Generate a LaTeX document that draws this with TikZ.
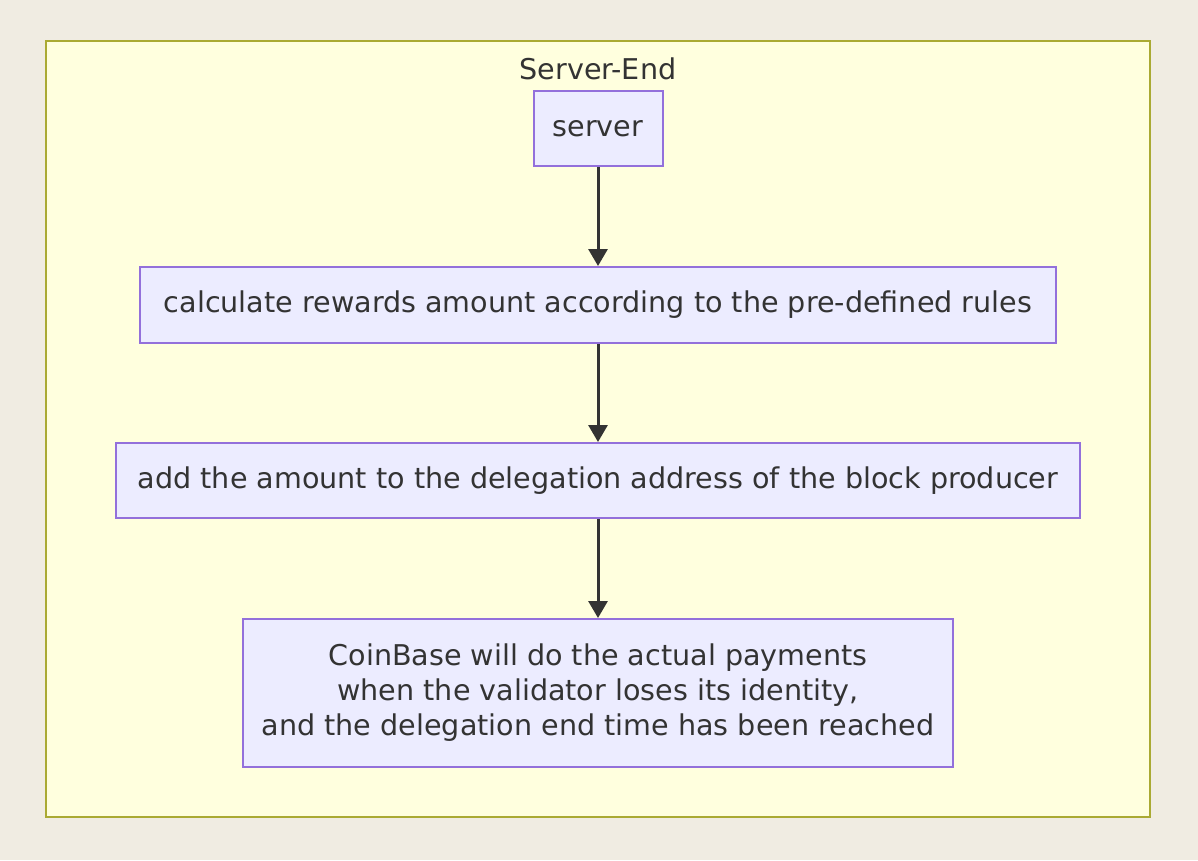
\documentclass[tikz,border=0pt]{standalone}
\usepackage{fontspec}
\setmainfont{DejaVu Sans}
\usetikzlibrary{arrows.meta}
\definecolor{bg}{HTML}{F0ECE2}
\definecolor{clfill}{HTML}{FFFFDE}
\definecolor{clline}{HTML}{AAAA33}
\definecolor{ndfill}{HTML}{ECECFF}
\definecolor{ndline}{HTML}{9370DB}
\definecolor{txt}{HTML}{333333}
\begin{document}
\begin{tikzpicture}[x=1pt,y=-1pt,
  box/.style={draw=ndline,fill=ndfill,line width=2pt,text=txt,font=\fontsize{28.6}{35}\selectfont,align=center,inner sep=0pt},
  flow/.style={draw=txt,line width=3pt,-{Triangle[length=17pt,width=19pt]}}]
\useasboundingbox (0,0) rectangle (1198,860);
\fill[bg] (0,0) rectangle (1198,860);
\draw[clline,fill=clfill,line width=2.2pt] (46,41) rectangle (1150,817);
\node[text=txt,font=\fontsize{28.6}{30}\selectfont] (title) at (598,69) {Server-End};
\node[box,minimum width=129pt,minimum height=75pt] (server) at (598,128.5) {server};
\node[box,minimum width=916pt,minimum height=76pt] (calc) at (598,305) {calculate rewards amount according to the pre-defined rules};
\node[box,minimum width=964pt,minimum height=75pt] (add) at (598,480.5) {add the amount to the delegation address of the block producer};
\node[box,minimum width=710pt,minimum height=148pt] (coin) at (598,693) {CoinBase will do the actual payments\\when the validator loses its identity,\\and the delegation end time has been reached};
\draw[flow] (server) -- (calc);
\draw[flow] (calc) -- (add);
\draw[flow] (add) -- (coin);
\end{tikzpicture}
\end{document}
